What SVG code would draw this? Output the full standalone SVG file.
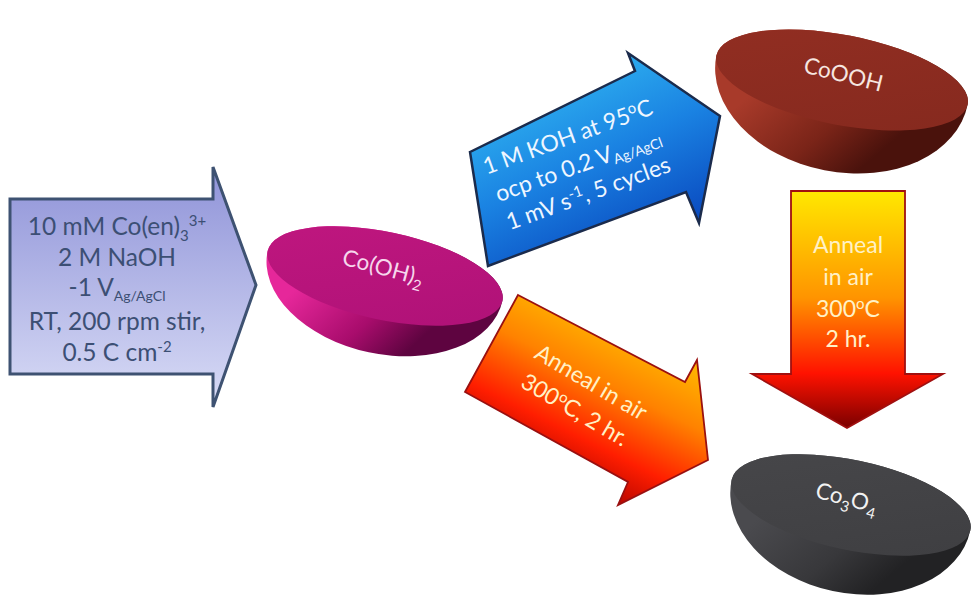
<svg xmlns="http://www.w3.org/2000/svg" width="971" height="596" viewBox="0 0 971 596">
  <defs>
    <style>
      text { font-family: Lato, "Open Sans", "Liberation Sans", sans-serif; }
      .lav-txt { font-size: 24.5px; fill: #3c4f74; text-anchor: middle; }
      .blue-txt { font-size: 23px; fill: #eef6ff; text-anchor: middle; }
      .hot-txt { font-size: 23px; fill: #fff1c6; text-anchor: middle; }
      .bowl-txt { font-size: 22.5px; text-anchor: middle; }
      .small { font-size: 15px; }
      .sub { font-size: 14px; }
    </style>
    <!-- block-arrow fills -->
    <linearGradient id="lav" x1="0" y1="0" x2="0" y2="1">
      <stop offset="0" stop-color="#8f93d8"/>
      <stop offset="1" stop-color="#d9dcf6"/>
    </linearGradient>
    <linearGradient id="blue" gradientUnits="userSpaceOnUse" x1="560" y1="70" x2="640" y2="240">
      <stop offset="0" stop-color="#2fb2f0"/>
      <stop offset="0.5" stop-color="#1a82e2"/>
      <stop offset="1" stop-color="#0b4ec2"/>
    </linearGradient>
    <linearGradient id="hotDiag" gradientUnits="userSpaceOnUse" x1="650" y1="320" x2="565" y2="490">
      <stop offset="0" stop-color="#ffc800"/>
      <stop offset="0.4" stop-color="#ff8200"/>
      <stop offset="0.72" stop-color="#ff1e00"/>
      <stop offset="1" stop-color="#a80000"/>
    </linearGradient>
    <linearGradient id="hotDown" gradientUnits="userSpaceOnUse" x1="0" y1="191" x2="0" y2="428">
      <stop offset="0" stop-color="#ffe800"/>
      <stop offset="0.45" stop-color="#ff9400"/>
      <stop offset="0.77" stop-color="#ff1200"/>
      <stop offset="1" stop-color="#7a0000"/>
    </linearGradient>
    <!-- bowl shading (local bowl frame) -->
    <linearGradient id="magSide" gradientUnits="userSpaceOnUse" x1="-70" y1="10" x2="30" y2="80">
      <stop offset="0" stop-color="#e6279a"/>
      <stop offset="0.6" stop-color="#a80c6c"/>
      <stop offset="1" stop-color="#5e0440"/>
    </linearGradient>
    <linearGradient id="magTop" x1="0" y1="0" x2="1" y2="1">
      <stop offset="0" stop-color="#c0177f"/>
      <stop offset="1" stop-color="#ae1177"/>
    </linearGradient>
    <linearGradient id="brnSide" gradientUnits="userSpaceOnUse" x1="-70" y1="10" x2="30" y2="90">
      <stop offset="0" stop-color="#a83a2a"/>
      <stop offset="0.6" stop-color="#7a2418"/>
      <stop offset="1" stop-color="#4a120c"/>
    </linearGradient>
    <linearGradient id="brnTop" x1="0" y1="0" x2="1" y2="1">
      <stop offset="0" stop-color="#922e22"/>
      <stop offset="1" stop-color="#85291e"/>
    </linearGradient>
    <linearGradient id="grySide" gradientUnits="userSpaceOnUse" x1="-70" y1="10" x2="30" y2="90">
      <stop offset="0" stop-color="#4a4a4e"/>
      <stop offset="0.6" stop-color="#38383b"/>
      <stop offset="1" stop-color="#222224"/>
    </linearGradient>
    <linearGradient id="gryTop" x1="0" y1="0" x2="1" y2="1">
      <stop offset="0" stop-color="#47474a"/>
      <stop offset="1" stop-color="#3e3e41"/>
    </linearGradient>
  </defs>

  <rect width="971" height="596" fill="#ffffff"/>

  <!-- block arrows -->
  <g id="connectors">
    <g id="arrow-deposition">
      <path d="M10 199 H213 V167 L256 285 L213 407 V374 H10 Z" fill="url(#lav)" stroke="#3e5272" stroke-width="3" stroke-linejoin="miter"/>
      <text class="lav-txt" x="117" y="235">10 mM Co(en)<tspan class="small" dy="6">3</tspan><tspan class="small" dy="-15">3+</tspan></text>
      <text class="lav-txt" x="117" y="266">2 M NaOH</text>
      <text class="lav-txt" x="117" y="296">-1 V<tspan class="sub" dy="5">Ag/AgCl</tspan></text>
      <text class="lav-txt" x="117" y="330">RT, 200 rpm stir,</text>
      <text class="lav-txt" x="117" y="361">0.5 C cm<tspan class="small" dy="-9">-2</tspan></text>
    </g>

    <g id="arrow-oxidation">
      <path d="M470 152 L635 71 L628 53 L720 116 L699 223 L686 192 L488 266 Z" fill="url(#blue)" stroke="#1b2b4c" stroke-width="2.5" stroke-linejoin="miter"/>
      <g transform="translate(578 165) rotate(-20)">
        <text class="blue-txt" x="0" y="-22">1 M KOH at 95<tspan class="small" dy="-8">o</tspan><tspan dy="8">C</tspan></text>
        <text class="blue-txt" x="0" y="8">ocp to 0.2 V<tspan class="sub" dy="4">Ag/AgCl</tspan></text>
        <text class="blue-txt" x="0" y="38">1 mV s<tspan class="small" dy="-8">-1</tspan><tspan dy="8">, 5 cycles</tspan></text>
      </g>
    </g>

    <g id="arrow-anneal-direct">
      <path d="M518 295 L685 382 L697 360 L708 460 L618 505 L628 482 L465 392 Z" fill="url(#hotDiag)" stroke="#9a1010" stroke-width="1.8" stroke-linejoin="miter"/>
      <g transform="translate(583 396) rotate(30.5)">
        <text class="hot-txt" x="0" y="-8">Anneal in air</text>
        <text class="hot-txt" x="0" y="24">300<tspan class="small" dy="-8">o</tspan><tspan dy="8">C, 2 hr.</tspan></text>
      </g>
    </g>

    <g id="arrow-anneal-down">
      <path d="M791 191 H905 V374 H943 L847 428 L752 374 H791 Z" fill="url(#hotDown)" stroke="#a01010" stroke-width="1.8" stroke-linejoin="miter"/>
      <text class="hot-txt" x="848" y="253">Anneal</text>
      <text class="hot-txt" x="848" y="285">in air</text>
      <text class="hot-txt" x="848" y="317">300<tspan class="small" dy="-8">o</tspan><tspan dy="8">C</tspan></text>
      <text class="hot-txt" x="848" y="347">2 hr.</text>
    </g>
  </g>

  <!-- material bowls -->
  <g id="node-cooh2" transform="translate(385 276) rotate(12)">
    <path d="M-120 0 A120 78 0 0 0 120 0 A120 44 0 0 0 -120 0 Z" fill="url(#magSide)"/>
    <ellipse rx="120" ry="44" fill="url(#magTop)"/>
    <text class="bowl-txt" fill="#f6d6ec" transform="rotate(3)" x="-4" y="0">Co(OH)<tspan class="small" dy="6">2</tspan></text>
  </g>

  <g id="node-coooh" transform="translate(842 80) rotate(11)">
    <path d="M-128 0 A128 92 0 0 0 128 0 A128 45 0 0 0 -128 0 Z" fill="url(#brnSide)"/>
    <ellipse rx="128" ry="45" fill="url(#brnTop)"/>
    <text class="bowl-txt" fill="#f6e6e0" transform="rotate(3)" x="0" y="2">CoOOH</text>
  </g>

  <g id="node-co3o4" transform="translate(851 505) rotate(12)">
    <path d="M-122 0 A122 88 0 0 0 122 0 A122 45 0 0 0 -122 0 Z" fill="url(#grySide)"/>
    <ellipse rx="122" ry="45" fill="url(#gryTop)"/>
    <text class="bowl-txt" fill="#f2f2f2" transform="rotate(3)" x="-6" y="2">Co<tspan class="small" dy="6">3</tspan><tspan dy="-6">O</tspan><tspan class="small" dy="6">4</tspan></text>
  </g>
</svg>
